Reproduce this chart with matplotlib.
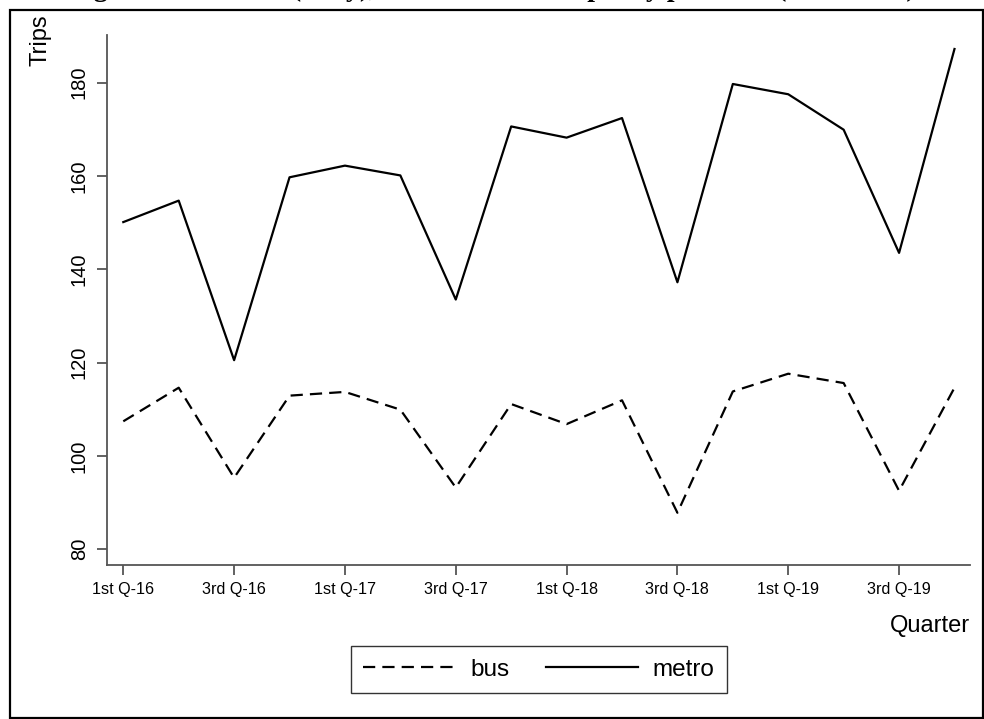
import numpy as np
import matplotlib.pyplot as plt
from matplotlib.patches import Rectangle

plt.rcParams['font.family'] = ['Liberation Sans', 'DejaVu Sans']

quarters = ['1st Q-16', '2nd Q-16', '3rd Q-16', '4th Q-16',
            '1st Q-17', '2nd Q-17', '3rd Q-17', '4th Q-17',
            '1st Q-18', '2nd Q-18', '3rd Q-18', '4th Q-18',
            '1st Q-19', '2nd Q-19', '3rd Q-19', '4th Q-19']
metro = [150.1, 154.7, 120.5, 159.7, 162.2, 160.1, 133.5, 170.6,
         168.2, 172.4, 137.2, 179.7, 177.5, 169.9, 143.5, 187.2]
bus = [107.4, 114.6, 95.3, 112.9, 113.7, 109.9, 93.2, 111.1,
       106.8, 111.9, 87.8, 113.8, 117.6, 115.6, 92.5, 114.6]
title = "Figure 4: Demand (daily), metro and bus capacity per hour (2016-2019)"

x = np.arange(len(quarters))
gray = '#555555'

fig = plt.figure(figsize=(9.84, 7.19), dpi=100)
ax = fig.add_axes([107/984, 1 - 565/719, (970 - 107)/984, (565 - 35)/719])

ax.plot(x, bus, color='black', lw=1.6, dashes=(5.5, 3.2), label='bus')
ax.plot(x, metro, color='black', lw=1.6, label='metro')

ax.set_xlim(-0.294, 15.28)
ax.set_ylim(76.6, 190.2)
ax.set_xticks(x[::2])
ax.set_xticklabels(quarters[::2])
ax.set_yticks([80, 100, 120, 140, 160, 180])

for s in ['top', 'right']:
    ax.spines[s].set_visible(False)
for s in ['left', 'bottom']:
    ax.spines[s].set_color(gray)
    ax.spines[s].set_linewidth(1.3)
ax.tick_params(axis='both', direction='out', length=7, width=1.3, color=gray)
ax.tick_params(axis='x', labelsize=11.6, pad=5)
ax.tick_params(axis='y', labelsize=14.5, pad=6)
for lab in ax.get_yticklabels():
    lab.set_rotation(90)
    lab.set_va('center')

fig.text(40/984, 1 - 40/719, 'Trips', rotation=90, ha='center', va='center', fontsize=17)
fig.text(970/984, 1 - 626/719, 'Quarter', ha='right', va='center', fontsize=17)

leg = fig.legend(loc='center', bbox_to_anchor=(539/984, 1 - 669.5/719), ncol=2,
                 fontsize=17.5, handlelength=3.8, handletextpad=0.6, columnspacing=1.5,
                 fancybox=False, framealpha=1, borderpad=0.5)
leg.get_frame().set_edgecolor('#333333')
leg.get_frame().set_linewidth(1.0)

# outer border, title sits above the top edge as in the source (only descenders show)
fig.patches.append(Rectangle((10/984, 1/719), 973/984, 708/719, transform=fig.transFigure,
                             fill=False, edgecolor='black', lw=1.6))
fig.text(0.5, 1 + 4/719, title, ha='center', va='baseline', fontsize=20,
         fontweight='bold', family=['Liberation Serif', 'DejaVu Serif'])

fig.savefig('out.png', dpi=100)
